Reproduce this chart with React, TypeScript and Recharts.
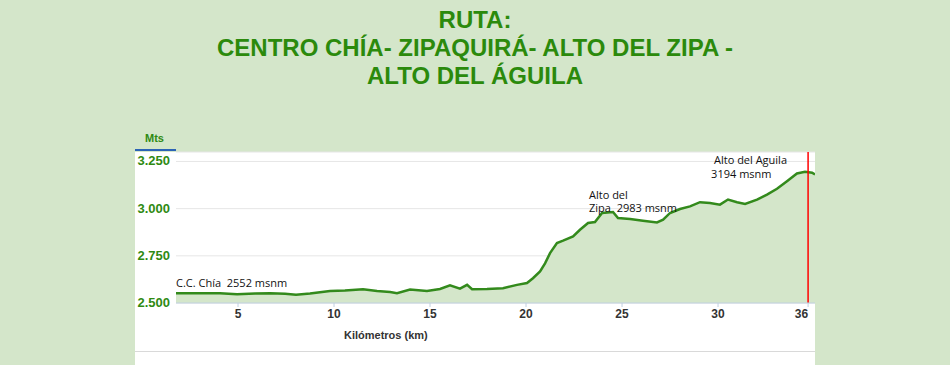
import React from 'react'
import {
  AreaChart,
  Area,
  XAxis,
  YAxis,
  CartesianGrid,
  ReferenceLine,
  ReferenceDot,
} from 'recharts'

// distancia recorrida (km) y altitud (msnm)
const km = [
  1.77, 3.02, 4.06, 4.95, 5.89, 6.67, 7.45, 8.02, 8.75, 9.79, 10.57, 11.51, 12.24, 12.92,
  13.28, 13.96, 14.84, 15.52, 16.04, 16.56, 16.93, 17.19, 17.97, 18.8, 19.53, 20.05, 20.36,
  20.73, 20.99, 21.25, 21.61, 21.93, 22.45, 22.81, 23.23, 23.59, 23.96, 24.53, 24.79, 25.42,
  26.09, 26.82, 27.14, 27.5, 28.02, 28.54, 29.06, 29.58, 30.1, 30.52, 30.99, 31.41, 32.03,
  32.55, 33.07, 33.59, 34.11, 34.53, 34.9, 35.05,
]
const altitud = [
  2552, 2552, 2551, 2546, 2550, 2552, 2549, 2544, 2550, 2564, 2566, 2573, 2564, 2558,
  2552, 2571, 2564, 2574, 2594, 2576, 2596, 2573, 2574, 2578, 2596, 2606, 2631,
  2667, 2710, 2764, 2818, 2830, 2853, 2888, 2924, 2929, 2977, 2982, 2950, 2945,
  2936, 2927, 2941, 2977, 2998, 3012, 3034, 3030, 3021, 3048, 3034, 3025, 3048,
  3074, 3105, 3145, 3186, 3195, 3190, 3181,
]

const kmTicks = [5, 10, 15, 20, 25, 30]
const altTicks = [2500, 2750, 3000, 3250]
const totalKm = 36
const posicionKm = 34.69

const notas = [
  { km: 1.77, m: 2585, texto: 'C.C. Chía  2552 msnm' },
  { km: 23.28, m: 3053, texto: 'Alto del' },
  { km: 23.28, m: 2984, texto: 'Zipa  2983 msnm' },
  { km: 29.79, m: 3239, texto: 'Alto del Aguila' },
  { km: 29.64, m: 3163, texto: '3194 msnm' },
]

const data = km.map((k, i) => ({ km: k, alt: altitud[i] }))

const verde = '#2f8a12'
const fondo = '#d4e6ca'

const fmtMiles = (v: number) => v.toLocaleString('de-DE')

const YTick = (props: any) => {
  const { x, y, payload } = props
  return (
    <text
      x={x}
      y={y}
      dy={4}
      textAnchor="end"
      fill={verde}
      fontFamily="'Liberation Sans', Arial, sans-serif"
      fontWeight="bold"
      fontSize={13}
    >
      {fmtMiles(payload.value)}
    </text>
  )
}

const XTick = (props: any) => {
  const { x, y, payload } = props
  const ultimo = payload.value === posicionKm
  return (
    <text
      x={x}
      y={y}
      dy={9}
      textAnchor={ultimo ? 'end' : 'middle'}
      fill="#333"
      fontFamily="'Liberation Sans', Arial, sans-serif"
      fontWeight="bold"
      fontSize={12}
    >
      {ultimo ? totalKm : payload.value}
    </text>
  )
}

const Nota = (texto: string) => (props: any) => {
  const vb = props.viewBox
  if (!vb) return null
  return (
    <text
      x={vb.x}
      y={vb.y}
      fill="#111"
      fontFamily="'Open Sans', sans-serif"
      fontSize={11}
      style={{ whiteSpace: 'pre' }}
    >
      {texto}
    </text>
  )
}

const tituloStyle: React.CSSProperties = {
  position: 'absolute',
  left: 0,
  top: 6,
  width: 950,
  textAlign: 'center',
  color: '#2b8a0c',
  fontFamily: "'Liberation Sans', Arial, sans-serif",
  fontWeight: 'bold',
  fontSize: 24,
  lineHeight: '28px',
}

export default function App() {
  return (
    <div
      style={{
        position: 'absolute',
        left: 0,
        top: 0,
        width: 950,
        height: 365,
        background: fondo,
        overflow: 'hidden',
      }}
    >
      <div style={tituloStyle}>
        RUTA:
        <br />
        CENTRO CHÍA- ZIPAQUIRÁ- ALTO DEL ZIPA -
        <br />
        ALTO DEL ÁGUILA
      </div>
      <div
        style={{
          position: 'absolute',
          left: 145,
          top: 132,
          color: verde,
          fontFamily: "'Liberation Sans', Arial, sans-serif",
          fontSize: 11,
          fontWeight: 'bold',
        }}
      >
        Mts
      </div>
      <div
        style={{
          position: 'absolute',
          left: 135,
          top: 149,
          width: 41,
          height: 2,
          background: '#2b63b5',
        }}
      />
      <div
        style={{
          position: 'absolute',
          left: 135,
          top: 152,
          width: 680,
          height: 213,
          background: '#fff',
        }}
      />
      <div
        style={{
          position: 'absolute',
          left: 135,
          top: 351,
          width: 680,
          height: 1,
          background: '#d9d9d9',
        }}
      />
      <div
        style={{
          position: 'absolute',
          left: 344,
          top: 329,
          color: '#333',
          fontFamily: "'Liberation Sans', Arial, sans-serif",
          fontSize: 11,
          fontWeight: 'bold',
        }}
      >
        Kilómetros (km)
      </div>
      <div style={{ position: 'absolute', left: 0, top: 0 }}>
        <AreaChart
          width={950}
          height={365}
          data={data}
          margin={{ top: 152, right: 135, bottom: 32, left: 136 }}
        >
          <CartesianGrid horizontal vertical={false} stroke="#e6e6e6" />
          <XAxis
            dataKey="km"
            type="number"
            domain={[1.77, 35.05]}
            ticks={[...kmTicks, posicionKm]}
            interval={0}
            height={30}
            axisLine={{ stroke: '#c0d0e0' }}
            tickLine={{ stroke: '#c0d0e0' }}
            tickSize={4}
            tick={<XTick />}
            allowDataOverflow
          />
          <YAxis
            type="number"
            domain={[2500, 3300]}
            ticks={altTicks}
            width={40}
            axisLine={false}
            tickLine={false}
            tickSize={4}
            tickMargin={2}
            tick={<YTick />}
            allowDataOverflow
          />
          <Area
            type="linear"
            dataKey="alt"
            stroke="#338a1c"
            strokeWidth={2.5}
            fill={fondo}
            fillOpacity={1}
            baseValue={2500}
            isAnimationActive={false}
          />
          <ReferenceLine x={posicionKm} stroke="#ff0000" strokeWidth={1.5} />
          {notas.map((n, i) => (
            <ReferenceDot
              key={i}
              x={n.km}
              y={n.m}
              r={0}
              fill="none"
              stroke="none"
              ifOverflow="visible"
              label={Nota(n.texto)}
            />
          ))}
        </AreaChart>
      </div>
    </div>
  )
}
